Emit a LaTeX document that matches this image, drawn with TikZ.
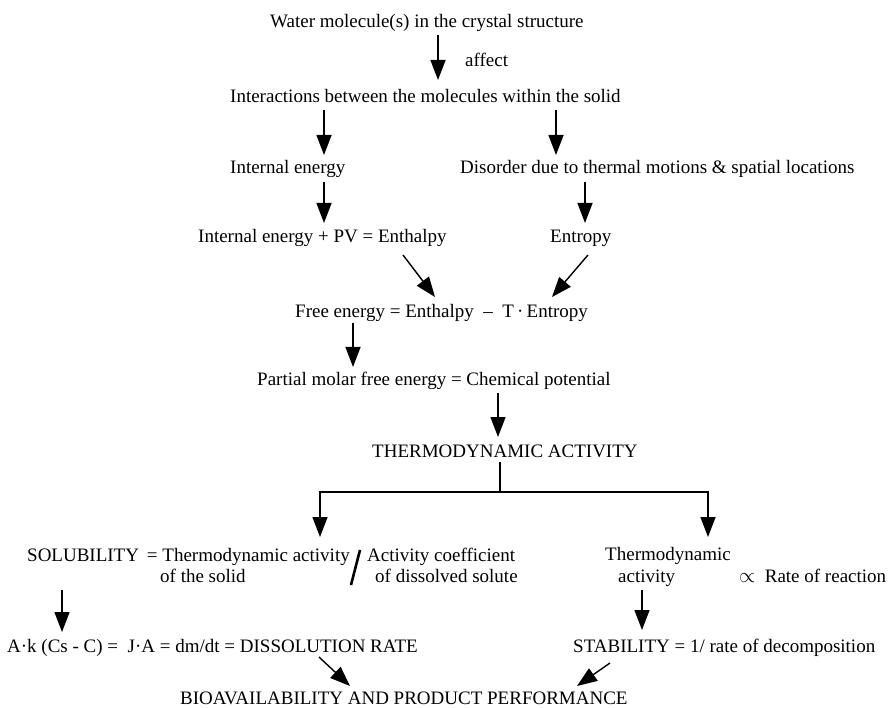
\documentclass[tikz,border=0pt]{standalone}
\usepackage{fontspec}
\setmainfont{Liberation Serif}
\usetikzlibrary{arrows.meta}
\tikzset{
  lbl/.style={anchor=base west, inner sep=0pt, font=\fontsize{19}{19}\selectfont},
  arr/.style={-{Triangle[length=20pt,width=15pt]}, line width=1.4pt},
  plain/.style={line width=1.4pt},
  slashline/.style={line width=2.6pt}
}
\begin{document}
\begin{tikzpicture}[x=1pt,y=-1pt]
\useasboundingbox (0,0) rectangle (894,708);
% texts
\node[lbl] (water) at (270,28) {Water molecule(s) in the crystal structure};
\node[lbl] (affect) at (465,67) {affect};
\node[lbl] (inter) at (230,103) {Interactions between the molecules within the solid};
\node[lbl] (ie) at (230,174) {Internal energy};
\node[lbl] (dis) at (460,174) {Disorder due to thermal motions \& spatial locations};
\node[lbl] (iepv) at (198,243) {Internal energy + PV = Enthalpy};
\node[lbl] (ent) at (550,243) {Entropy};
\node[lbl] (free) at (295,318) {Free energy = Enthalpy \ \textendash\ \ T\,·\,Entropy};
\node[lbl] (pmfe) at (257,385) {Partial molar free energy = Chemical potential};
\node[lbl] (ta) at (372,457) {THERMODYNAMIC ACTIVITY};
\node[lbl] (sol) at (27,561) {SOLUBILITY\ \,= Thermodynamic activity};
\node[lbl] (solid) at (160,582) {of the solid};
\node[lbl] (actc) at (367,561) {Activity coefficient};
\node[lbl] (dsol) at (375,582) {of dissolved solute};
\node[lbl] (td1) at (605,560) {Thermodynamic};
\node[lbl] (td2) at (618,582) {activity};
\node[lbl] (prop) at (739,582) {{\fontsize{21}{21}\selectfont$\propto$}\ \ Rate of reaction};
\node[lbl] (ak) at (7,652) {A·k (Cs - C) = \ J·A = dm/dt = DISSOLUTION RATE};
\node[lbl] (stab) at (573,652) {STABILITY = 1/ rate of decomposition};
\node[lbl] (bio) at (180,704) {BIOAVAILABILITY AND PRODUCT PERFORMANCE};
% connector end points
\coordinate (a1s) at (438,35);  \coordinate (a1e) at (438,80);
\coordinate (a2ls) at (324,110); \coordinate (a2le) at (324,155);
\coordinate (a2rs) at (556,110); \coordinate (a2re) at (556,155);
\coordinate (a3ls) at (324,182); \coordinate (a3le) at (324,223);
\coordinate (a3rs) at (585,182); \coordinate (a3re) at (585,223);
\coordinate (d1s) at (403,255); \coordinate (d1e) at (435,297);
\coordinate (d2s) at (588,255); \coordinate (d2e) at (552,297);
\coordinate (a4s) at (353,323); \coordinate (a4e) at (353,367);
\coordinate (a5s) at (498,393); \coordinate (a5e) at (498,437);
\coordinate (b0) at (500,462); \coordinate (b1) at (500,492);
\coordinate (bl) at (320,537); \coordinate (br) at (708,537);
\coordinate (sl1) at (351,585); \coordinate (sl2) at (360,550);
\coordinate (a6s) at (62,590); \coordinate (a6e) at (62,632);
\coordinate (a7s) at (642,590); \coordinate (a7e) at (642,630);
\coordinate (d3s) at (319,657); \coordinate (d3e) at (350,686);
\coordinate (d4s) at (610,663); \coordinate (d4e) at (577,686);
% connectors
\draw[arr] (a1s) -- (a1e);
\draw[arr] (a2ls) -- (a2le);
\draw[arr] (a2rs) -- (a2re);
\draw[arr] (a3ls) -- (a3le);
\draw[arr] (a3rs) -- (a3re);
\draw[arr] (d1s) -- (d1e);
\draw[arr] (d2s) -- (d2e);
\draw[arr] (a4s) -- (a4e);
\draw[arr] (a5s) -- (a5e);
\draw[plain] (b0) -- (b1);
\draw[arr] (b1) -| (bl);
\draw[arr] (b1) -| (br);
\draw[slashline] (sl1) -- (sl2);
\draw[arr] (a6s) -- (a6e);
\draw[arr] (a7s) -- (a7e);
\draw[arr] (d3s) -- (d3e);
\draw[arr] (d4s) -- (d4e);
\end{tikzpicture}
\end{document}
